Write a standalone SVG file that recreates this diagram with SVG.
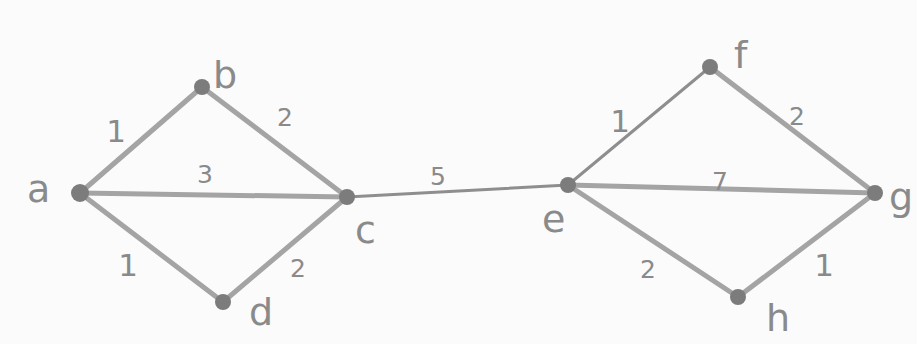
<svg xmlns="http://www.w3.org/2000/svg" width="917" height="344" viewBox="0 0 917 344">
  <style>
    .edge { stroke: #a4a4a4; stroke-width: 5; stroke-linecap: round; fill: none; }
    .thin { stroke: #8e8e8e; stroke-width: 3; }
    .dot { fill: #7c7c7c; }
    .name { font-family: "DejaVu Sans", sans-serif; font-size: 38px; fill: #8a8a8a; }
    .w { font-family: "DejaVu Sans", sans-serif; font-size: 25px; fill: #8a8a8a; text-anchor: middle; }
    .one { font-size: 31px; }
  </style>
  <rect width="917" height="344" fill="#fbfbfb"/>
  <g id="connectors">
    <line class="edge" x1="80" y1="193" x2="202" y2="87"/>
    <line class="edge" x1="202" y1="87" x2="347" y2="197"/>
    <line class="edge" x1="80" y1="193" x2="347" y2="197"/>
    <line class="edge" x1="80" y1="193" x2="223" y2="302"/>
    <line class="edge" x1="223" y1="302" x2="347" y2="197"/>
    <line class="edge thin" x1="347" y1="197" x2="568" y2="185"/>
    <line class="edge thin" x1="568" y1="185" x2="710" y2="67"/>
    <line class="edge" x1="710" y1="67" x2="875" y2="193"/>
    <line class="edge" x1="568" y1="185" x2="875" y2="193"/>
    <line class="edge" x1="568" y1="185" x2="738" y2="297"/>
    <line class="edge" x1="738" y1="297" x2="875" y2="193"/>
    <text class="w one" x="116" y="142">1</text>
    <text class="w" x="285" y="126">2</text>
    <text class="w" x="205" y="183">3</text>
    <text class="w one" x="128" y="276">1</text>
    <text class="w" x="298" y="277">2</text>
    <text class="w" x="438" y="185">5</text>
    <text class="w one" x="620" y="132">1</text>
    <text class="w" x="797" y="125">2</text>
    <text class="w" x="720" y="190">7</text>
    <text class="w" x="648" y="278">2</text>
    <text class="w one" x="824" y="276">1</text>
  </g>
  <g id="node-a"><circle class="dot" cx="80" cy="193" r="9"/><text class="name" x="27" y="202">a</text></g>
  <g id="node-b"><circle class="dot" cx="202" cy="87" r="8"/><text class="name" x="213" y="88">b</text></g>
  <g id="node-c"><circle class="dot" cx="347" cy="197" r="8"/><text class="name" x="355" y="243">c</text></g>
  <g id="node-d"><circle class="dot" cx="223" cy="302" r="8"/><text class="name" x="249" y="325">d</text></g>
  <g id="node-e"><circle class="dot" cx="568" cy="185" r="8"/><text class="name" x="542" y="232">e</text></g>
  <g id="node-f"><circle class="dot" cx="710" cy="67" r="8"/><text class="name" x="734" y="68">f</text></g>
  <g id="node-g"><circle class="dot" cx="875" cy="193" r="8"/><text class="name" x="889" y="210">g</text></g>
  <g id="node-h"><circle class="dot" cx="738" cy="297" r="8"/><text class="name" x="766" y="331">h</text></g>
</svg>
